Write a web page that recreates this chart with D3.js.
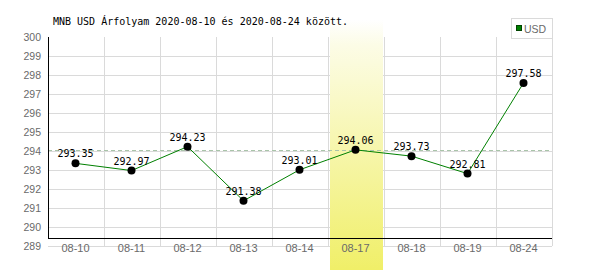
<!DOCTYPE html>
<html lang="hu">
<head>
<meta charset="UTF-8">
<title>MNB USD Árfolyam</title>
<script src="https://d3js.org/d3.v7.min.js"></script>
<style>
    body { margin: 0; background: #fff; }
    .grid line { stroke: #dadada; stroke-width: 1; shape-rendering: crispEdges; }
    .tick-label { font-family: "Liberation Sans", Arial, sans-serif; fill: #6a6a6a; }
    .mono { font-family: "DejaVu Sans Mono", monospace; font-size: 10px; fill: #000; }
</style>
</head>
<body>
<svg width="600" height="270"></svg>
<script>
    // chart data
    const dates = ["08-10", "08-11", "08-12", "08-13", "08-14", "08-17", "08-18", "08-19", "08-24"];
    const rates = [293.35, 292.97, 294.23, 291.38, 293.01, 294.06, 293.73, 292.81, 297.58];
    const yTicks = [289, 290, 291, 292, 293, 294, 295, 296, 297, 298, 299, 300];
    const highlightDate = "08-17";
    const refRate = 294.06;
    const title = "MNB USD Árfolyam 2020-08-10 és 2020-08-24 között.";
    const seriesName = "USD";

    const plotLeft = 48, plotRight = 552, plotTop = 37, plotBottom = 246, axisY = 238;

    const svg = d3.select("svg");

    const x = d3.scaleBand().domain(dates).range([plotLeft, plotRight]).padding(0);
    const y = d3.scaleLinear().domain([289, 300]).range([plotBottom, plotTop]);
    const cx = d => x(d) + x.bandwidth() / 2 - 0.5;

    // gradient for the highlighted day
    const grad = svg.append("defs").append("linearGradient")
        .attr("id", "hl").attr("x1", 0).attr("y1", 0).attr("x2", 0).attr("y2", 1);
    grad.append("stop").attr("offset", "0%").attr("stop-color", "#ffffff");
    grad.append("stop").attr("offset", "10%").attr("stop-color", "#fcfce6");
    grad.append("stop").attr("offset", "100%").attr("stop-color", "#f0ef68");

    // grid
    const grid = svg.append("g").attr("class", "grid");
    grid.selectAll(".h")
        .data(yTicks.filter(d => d < 300))
        .enter().append("line")
        .attr("x1", plotLeft).attr("x2", plotRight)
        .attr("y1", d => Math.round(y(d)) + 0.5)
        .attr("y2", d => Math.round(y(d)) + 0.5);
    grid.selectAll(".v")
        .data(dates.slice(1).concat(["end"]))
        .enter().append("line")
        .attr("x1", d => (d === "end" ? plotRight : x(d)) + 0.5)
        .attr("x2", d => (d === "end" ? plotRight : x(d)) + 0.5)
        .attr("y1", plotTop).attr("y2", plotBottom);

    // highlighted day band
    svg.append("rect")
        .attr("x", x(highlightDate) + 2)
        .attr("width", x.bandwidth() - 3)
        .attr("y", 20)
        .attr("height", 250)
        .attr("fill", "url(#hl)");

    // reference dashed line
    svg.append("line")
        .attr("x1", plotLeft).attr("x2", plotRight)
        .attr("y1", Math.round(y(refRate)) + 0.5)
        .attr("y2", Math.round(y(refRate)) + 0.5)
        .attr("stroke", "#a9c4a9")
        .attr("stroke-dasharray", "4,3");

    // axes lines
    svg.append("line")
        .attr("x1", plotLeft + 0.5).attr("x2", plotLeft + 0.5)
        .attr("y1", plotTop).attr("y2", axisY + 1)
        .attr("stroke", "#000").attr("stroke-width", 1);
    svg.append("line")
        .attr("x1", plotLeft).attr("x2", plotRight)
        .attr("y1", axisY + 0.5).attr("y2", axisY + 0.5)
        .attr("stroke", "#000").attr("stroke-width", 1);

    // y tick labels
    svg.selectAll(".ylab")
        .data(yTicks)
        .enter().append("text")
        .attr("class", "tick-label")
        .attr("x", 41)
        .attr("y", d => y(d) + 4)
        .attr("text-anchor", "end")
        .style("font-size", "10.5px")
        .text(d => d);

    // x tick labels
    svg.selectAll(".xlab")
        .data(dates)
        .enter().append("text")
        .attr("class", "tick-label")
        .attr("x", d => cx(d))
        .attr("y", 252)
        .attr("text-anchor", "middle")
        .style("font-size", "11px")
        .text(d => d);

    // line
    const line = d3.line()
        .x((d, i) => cx(dates[i]))
        .y(d => y(d));
    svg.append("path")
        .datum(rates)
        .attr("d", line)
        .attr("fill", "none")
        .attr("stroke", "#008000")
        .attr("stroke-width", 1);

    // points
    svg.selectAll(".pt")
        .data(rates)
        .enter().append("circle")
        .attr("cx", (d, i) => cx(dates[i]))
        .attr("cy", d => y(d))
        .attr("r", 4)
        .attr("fill", "#000");

    // value labels
    svg.selectAll(".val")
        .data(rates)
        .enter().append("text")
        .attr("class", "mono")
        .attr("x", (d, i) => cx(dates[i]))
        .attr("y", d => y(d) - 6)
        .attr("text-anchor", "middle")
        .text(d => d.toFixed(2));

    // title
    svg.append("text")
        .attr("class", "mono")
        .attr("x", 53)
        .attr("y", 25)
        .text(title);

    // legend
    svg.append("rect")
        .attr("x", 511.5).attr("y", 18.5)
        .attr("width", 41).attr("height", 20)
        .attr("fill", "#fff").attr("stroke", "#dadada");
    svg.append("rect")
        .attr("x", 516.5).attr("y", 25.5)
        .attr("width", 5).attr("height", 5)
        .attr("fill", "#008000").attr("stroke", "#004400");
    svg.append("text")
        .attr("class", "tick-label")
        .attr("x", 524).attr("y", 32.5)
        .style("font-size", "10.5px")
        .text(seriesName);
</script>
</body>
</html>
